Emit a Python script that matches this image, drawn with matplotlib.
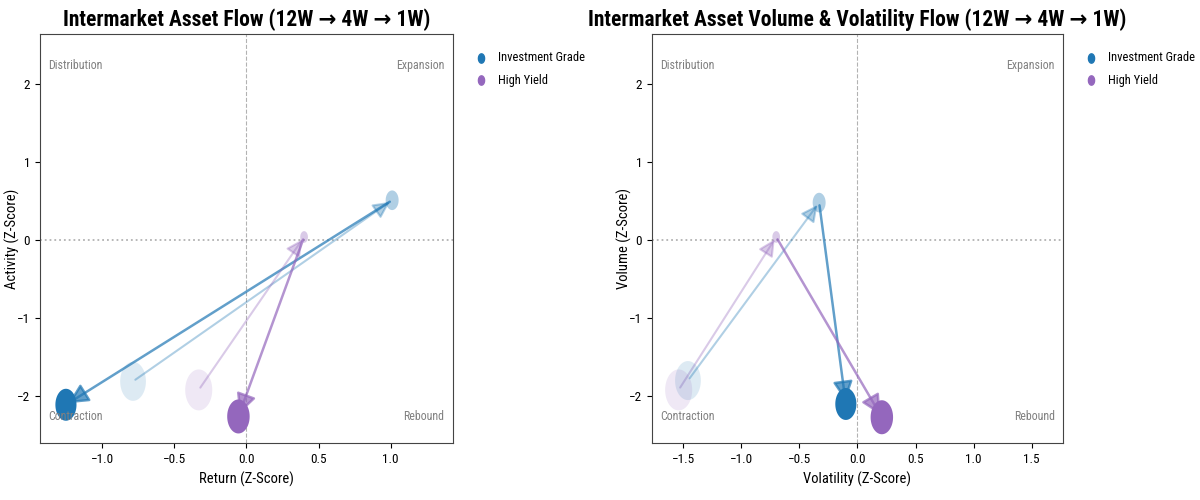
import matplotlib
matplotlib.use("Agg")
import matplotlib.pyplot as plt
from matplotlib import font_manager
from matplotlib.path import Path
import numpy as np

# the reference text is narrow; use a condensed face when one is installed
installed = {f.name for f in font_manager.fontManager.ttflist}
narrow = [n for n in ["Roboto Condensed", "Open Sans Condensed", "PT Sans Narrow",
                      "Archivo Narrow", "Liberation Sans Narrow"] if n in installed]
if narrow:
    plt.rcParams["font.family"] = [narrow[0], "DejaVu Sans"]
    scale = 1.0
else:
    plt.rcParams["font.family"] = ["DejaVu Sans"]
    scale = 0.8

# Data: positions at 12W, 4W, 1W
assets = ["Investment Grade", "High Yield"]
colors = ["#1f77b4", "#9467bd"]

ret_x = {"Investment Grade": [-0.785, 1.01, -1.25], "High Yield": [-0.33, 0.40, -0.055]}
act_y = {"Investment Grade": [-1.81, 0.51, -2.11], "High Yield": [-1.92, 0.04, -2.26]}

vol_x = {"Investment Grade": [-1.46, -0.33, -0.10], "High Yield": [-1.54, -0.70, 0.21]}
volu_y = {"Investment Grade": [-1.80, 0.48, -2.10], "High Yield": [-1.92, 0.04, -2.27]}

sizes = {"Investment Grade": [790, 200, 530], "High Yield": [870, 70, 600]}
alphas = [0.15, 0.35, 1.0]
arrow_alphas = [0.35, 0.7]

# narrow ellipse marker, as in the reference
t = np.linspace(0, 2 * np.pi, 60)
ellipse = Path(np.column_stack([0.66 * np.cos(t), np.sin(t)]), closed=True)


def draw_panel(ax, xs, ys, title, xlabel, ylabel, xlim):
    ax.axvline(0, color="gray", ls="--", lw=0.8, alpha=0.6)
    ax.axhline(0, color="gray", ls=":", lw=1.3, alpha=0.6)
    for name, c in zip(assets, colors):
        x, y = xs[name], ys[name]
        for i in range(3):
            ax.scatter(x[i], y[i], s=sizes[name][i], color=c, alpha=alphas[i],
                       marker=ellipse, edgecolors="none", zorder=3)
        for i in range(2):
            ax.annotate("", xy=(x[i + 1], y[i + 1]), xytext=(x[i], y[i]),
                        arrowprops=dict(arrowstyle="-|>", color=c, alpha=arrow_alphas[i],
                                        lw=1.8 if i == 1 else 1.5,
                                        mutation_scale=30 if i == 1 else 25),
                        zorder=2)
        ax.scatter([], [], color=c, s=45, marker=ellipse, label=name)
    ax.set_xlim(xlim)
    ax.set_ylim(-2.6, 2.64)
    ax.set_yticks([-2, -1, 0, 1, 2])
    kw = dict(color="gray", fontsize=8.6 * scale, transform=ax.transAxes)
    ax.text(0.02, 0.94, "Distribution", ha="left", va="top", **kw)
    ax.text(0.98, 0.94, "Expansion", ha="right", va="top", **kw)
    ax.text(0.02, 0.05, "Contraction", ha="left", va="bottom", **kw)
    ax.text(0.98, 0.05, "Rebound", ha="right", va="bottom", **kw)
    ax.set_title(title, fontsize=15.5 * scale, fontweight="bold")
    ax.set_xlabel(xlabel, fontsize=10.5 * scale)
    ax.set_ylabel(ylabel, fontsize=10.5 * scale)
    ax.yaxis.set_label_coords(-0.048, 0.5)
    ax.tick_params(labelsize=9.5 * scale)
    for sp in ax.spines.values():
        sp.set_color("#444444")
    ax.legend(loc="upper left", bbox_to_anchor=(1.01, 0.985), frameon=False,
              fontsize=9 * scale, handletextpad=0.4, labelspacing=0.75)


fig = plt.figure(figsize=(12, 5), dpi=100)
ax1 = fig.add_axes([0.0333, 0.114, 0.344, 0.818])
ax2 = fig.add_axes([0.5433, 0.114, 0.3425, 0.818])

draw_panel(ax1, ret_x, act_y, "Intermarket Asset Flow (12W \u2192 4W \u2192 1W)",
           "Return (Z-Score)", "Activity (Z-Score)", (-1.43, 1.43))
draw_panel(ax2, vol_x, volu_y, "Intermarket Asset Volume & Volatility Flow (12W \u2192 4W \u2192 1W)",
           "Volatility (Z-Score)", "Volume (Z-Score)", (-1.77, 1.77))

fig.savefig("out.png", dpi=100)
